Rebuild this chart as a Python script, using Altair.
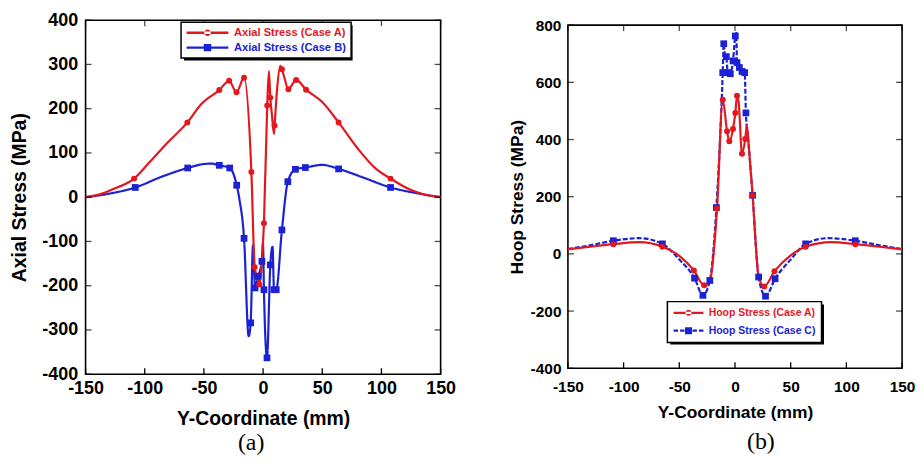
import altair as alt
import pandas as pd

# ---------------- data ----------------
# (a) Axial stress, Case A
LA_x = [-150, -136, -125, -109, -97, -83, -64, -52, -37,
        -28.7, -22.5, -16.1, -9.9, -7.1, -5, -3.2, -1.5, -0.4,
        0.7, 3.5, 4.9, 6.1, 7.5, 9.2, 9.7, 12, 14.5,
        15.9, 18, 21.4, 27.9, 36.3, 50, 63.8, 80, 95,
        107.7, 125, 138, 150]
LA_y = [0, 8, 20, 42, 76, 117, 169, 211, 242,
        263, 237, 270, 57, -158, -180, -197, -165, -119,
        -59, 207, 285, 225, 185, 143, 162, 250, 297,
        289, 270, 244, 265, 243, 215, 169, 110, 65,
        42, 16, 5, 0]
LA_m = [0, 0, 0, 1, 0, 0, 1, 0, 1,
        1, 1, 1, 1, 1, 0, 1, 0, 0,
        1, 1, 0, 1, 0, 0, 1, 0, 0,
        1, 0, 1, 1, 1, 0, 1, 0, 0,
        1, 0, 0, 0]
# (a) Axial stress, Case B
LB_x = [-150, -130, -108, -85, -63.7, -50, -44, -37, -28.2, -22.3,
        -20, -16.1, -12.2, -10.5, -8.5, -6.8, -4.3, -1, -0.1, 0.7,
        3.3, 6.1, 8, 9.2, 11.1, 15.9, 20.9, 27.3, 35.7, 50,
        63.8, 85, 107.7, 130, 150]
LB_y = [0, 8, 22, 47, 66, 75, 76, 72, 66, 27,
        -5, -93, -314, -284, -108, -205, -179, -145, -104, -209,
        -363, -153, -112, -209, -209, -74, 35, 63, 67, 73,
        64, 44, 22, 9, 0]
LB_m = [0, 0, 1, 0, 1, 0, 0, 1, 1, 1,
        0, 1, 0, 1, 0, 1, 1, 1, 0, 1,
        1, 1, 0, 1, 1, 1, 1, 1, 1, 0,
        1, 0, 1, 0, 0]
# (b) Hoop stress, Case A
RA_x = [-150, -130, -109.2, -86, -65.2, -50, -36.9, -27.7, -22.6, -16.1,
        -11, -7.1, -5.1, -1.8, 0.3, 1.8, 3.3, 6.3, 9.2, 10.7,
        12.2, 15.8, 21.2, 26.2, 35.4, 50, 63.4, 86.6, 108, 130,
        150]
RA_y = [16, 25, 34, 41, 25, -7, -58, -110, -94, 159,
        539, 429, 394, 437, 493, 553, 530, 350, 402, 449,
        385, 205, -79, -114, -61, -5, 25, 41, 34, 25,
        16]
RA_m = [0, 0, 1, 0, 1, 0, 1, 1, 0, 1,
        1, 1, 1, 1, 1, 1, 0, 1, 1, 0,
        0, 1, 0, 1, 1, 0, 1, 0, 1, 0,
        0]
# (b) Hoop stress, Case C
RC_x = [-150, -130, -109.2, -86, -65.2, -50, -36.3, -28.8, -22.6, -16.7,
        -11, -10.1, -9.2, -7.8, -6.5, -4.2, -1.8, 0.3, 1.2, 1.8,
        3.9, 6.3, 8.7, 9.8, 12.2, 15.8, 21.2, 27.4, 36, 50,
        63.4, 83.6, 108, 130, 150]
RC_y = [17, 30, 46, 55, 35, -20, -85, -145, -93, 162,
        634, 735, 700, 690, 634, 630, 675, 762, 773, 669,
        652, 638, 634, 493, 385, 205, -81, -148, -87, -20,
        35, 55, 46, 30, 17]
RC_m = [0, 0, 1, 0, 1, 0, 1, 1, 1, 1,
        1, 1, 0, 1, 1, 1, 1, 1, 0, 1,
        1, 1, 1, 1, 0, 1, 1, 1, 1, 0,
        1, 0, 1, 0, 0]

NAMES_L = ["Axial Stress (Case A)", "Axial Stress (Case B)"]
NAMES_R = ["Hoop Stress (Case A)", "Hoop Stress (Case C)"]
X_TICKS = [-150, -100, -50, 0, 50, 100, 150]
YL_TICKS = [-400, -300, -200, -100, 0, 100, 200, 300, 400]
YR_TICKS = [-400, -200, 0, 200, 400, 600, 800]

RED = "#e3181f"
BLUE = "#1b22d3"
FONT = "Liberation Sans"


def frame(xs, ys, ms, name):
    return pd.DataFrame({"x": xs, "y": ys, "m": ms, "series": name})


def panel(df, names, blue_dash, xdom, ydom, yticks, ytitle, w, h,
          fs_tick, fs_title, lpx, lpy, tpx, tpy, leg, caption, cap_dx, cap_off):
    cscale = alt.Scale(domain=names, range=[RED, BLUE])
    xs = alt.Scale(domain=xdom, nice=False, zero=False)
    ys = alt.Scale(domain=ydom, nice=False, zero=False)
    xaxis = alt.Axis(values=X_TICKS, grid=False, domain=False, ticks=False,
                     labelFont=FONT, labelFontSize=fs_tick,
                     labelFontWeight="bold", labelColor="black", labelPadding=lpx,
                     labelFlush=False, labelOverlap=False,
                     labelExpr="'' + datum.value",
                     title="Y-Coordinate (mm)", titleFont=FONT, titleFontSize=fs_title,
                     titleFontWeight="bold", titleColor="black", titlePadding=tpx)
    yaxis = alt.Axis(values=yticks, grid=False, domain=False, ticks=False,
                     labelFont=FONT, labelFontSize=fs_tick,
                     labelFontWeight="bold", labelColor="black", labelPadding=lpy,
                     labelFlush=False, labelOverlap=False,
                     labelExpr="'' + datum.value",
                     title=ytitle, titleFont=FONT, titleFontSize=fs_title,
                     titleFontWeight="bold", titleColor="black", titlePadding=tpy)

    sym_expr = "indexof(datum.label, 'Case A') >= 0 ? '%s' : '%s'" % (leg["pathA"], leg["pathB"])
    col_expr = "indexof(datum.label, 'Case A') >= 0 ? '%s' : '%s'" % (RED, BLUE)
    legend = alt.Legend(orient="none", legendX=leg["x"], legendY=leg["y"], title=None,
                        direction="vertical", fillColor="white", strokeColor="black",
                        padding=leg["pad"], rowPadding=leg["row"],
                        symbolSize=100, symbolStrokeWidth=0,
                        symbolType={"expr": sym_expr},
                        symbolFillColor={"expr": col_expr},
                        labelColor={"expr": col_expr},
                        labelFont=FONT, labelFontSize=leg["fs"], labelFontWeight="bold",
                        labelOffset=leg["loff"], labelLimit=300, zindex=2)
    # drop shadow of the legend box (a single black rectangle symbol)
    shadow = alt.Legend(orient="none", legendX=leg["x"] + 3, legendY=leg["y"] + 3, title=None,
                        padding=0, symbolSize=100, symbolStrokeWidth=0,
                        symbolType=leg["shadow"], symbolFillColor="black", symbolOpacity=1,
                        labelExpr="''", labelFontSize=1, labelOffset=0, zindex=1)

    base = alt.Chart(df)
    X = alt.X("x:Q", scale=xs, axis=xaxis)
    Y = alt.Y("y:Q", scale=ys, axis=yaxis)
    line_b = base.transform_filter(alt.datum.series == names[1]).mark_line(
        strokeWidth=2.2, interpolate="monotone", strokeDash=blue_dash, color=BLUE).encode(
        x=X, y=Y)
    line_a = base.transform_filter(alt.datum.series == names[0]).mark_line(
        strokeWidth=2.2, interpolate="monotone", color=RED).encode(x=X, y=Y)
    pts_b = base.transform_filter((alt.datum.series == names[1]) & (alt.datum.m == 1)).mark_square(
        size=46, opacity=1).encode(
        x=X, y=Y, color=alt.Color("series:N", scale=cscale, legend=legend))
    pts_a = base.transform_filter((alt.datum.series == names[0]) & (alt.datum.m == 1)).mark_circle(
        size=36, opacity=1).encode(
        x=X, y=Y, color=alt.Color("series:N", scale=cscale, legend=legend))

    # inward tick marks on all four sides of the frame
    xt = alt.Chart(pd.DataFrame({"t": X_TICKS}))
    yt = alt.Chart(pd.DataFrame({"t": yticks}))
    tx = alt.X("t:Q", scale=xs, axis=xaxis)
    ty = alt.Y("t:Q", scale=ys, axis=yaxis)
    tick_b = xt.transform_calculate(sh="'s'").mark_tick(
        orient="vertical", size=6, thickness=1.3, color="black").encode(
        x=tx, y=alt.value(h - 3),
        opacity=alt.Opacity("sh:N", scale=alt.Scale(domain=["s"], range=[1]), legend=shadow))
    tick_t = xt.mark_tick(orient="vertical", size=6, thickness=1.3, color="black").encode(
        x=tx, y=alt.value(3))
    tick_l = yt.mark_tick(orient="horizontal", size=6, thickness=1.3, color="black").encode(
        y=ty, x=alt.value(3))
    tick_r = yt.mark_tick(orient="horizontal", size=6, thickness=1.3, color="black").encode(
        y=ty, x=alt.value(w - 3))

    return alt.layer(line_b, line_a, pts_b, pts_a, tick_b, tick_t, tick_l, tick_r).properties(
        width=w, height=h,
        title=alt.TitleParams(text=caption, orient="bottom", anchor="middle", frame="group",
                              font="Liberation Serif", fontSize=24, fontWeight="normal",
                              color="black", dx=cap_dx, offset=cap_off, baseline="top"))


df_l = pd.concat([frame(LB_x, LB_y, LB_m, NAMES_L[1]), frame(LA_x, LA_y, LA_m, NAMES_L[0])])
df_r = pd.concat([frame(RC_x, RC_y, RC_m, NAMES_R[1]), frame(RA_x, RA_y, RA_m, NAMES_R[0])])

LINE_L = "M-1,-0.24H7.4V0.24H-1Z"
leg_l = dict(x=96, y=2, pad=5, row=3, fs=11.2, loff=37,
             pathA=LINE_L + " M2.55,0A0.65,0.65 0 1,0 3.85,0A0.65,0.65 0 1,0 2.55,0Z",
             pathB=LINE_L + " M2.45,-0.75H3.95V0.75H2.45Z",
             shadow="M-1,-1H32.9V6.1H-1Z")
leg_r = dict(x=100, y=283, pad=6, row=7, fs=10.5, loff=25,
             pathA="M-1,-0.22H5V0.22H-1Z M1.4,0A0.6,0.6 0 1,0 2.6,0A0.6,0.6 0 1,0 1.4,0Z",
             pathB="M-1,-0.22H-0.1V0.22H-1Z M0.3,-0.22H1.2V0.22H0.3Z M2.8,-0.22H3.7V0.22H2.8Z "
                   "M4.1,-0.22H5V0.22H4.1Z M1.3,-0.7H2.7V0.7H1.3Z",
             shadow="M-1,-1H29.9V7H-1Z")

left = panel(df_l, NAMES_L, [1, 0], [-150, 150], [-400, 400], YL_TICKS, "Axial Stress (MPa)",
             357, 356, 18, 19.5, 5, 8, 13, 12, leg_l, "(a)", -12, 3)
right = panel(df_r, NAMES_R, [5, 2], [-150, 150], [-400, 800], YR_TICKS, "Hoop Stress (MPa)",
              336, 345, 15.5, 17.5, 11, 7, 9, 4, leg_r, "(b)", 26, 9)

spacer = alt.Chart(pd.DataFrame({"v": [0]})).mark_text().encode(
    text=alt.value("")).properties(width=336, height=1,
                                   view=alt.ViewBackground(stroke="transparent"))
right_col = alt.vconcat(spacer, right, spacing=4, bounds="flush")

chart = alt.hconcat(left, right_col, spacing=51).resolve_scale(
    color="independent", opacity="independent").properties(
    padding={"left": 1, "top": 1, "right": 0, "bottom": 0}
).configure_view(stroke="black", strokeWidth=1.6).configure_legend(strokeWidth=1.5)

chart.save("out.html", embed_options={"renderer": "svg", "actions": False})
